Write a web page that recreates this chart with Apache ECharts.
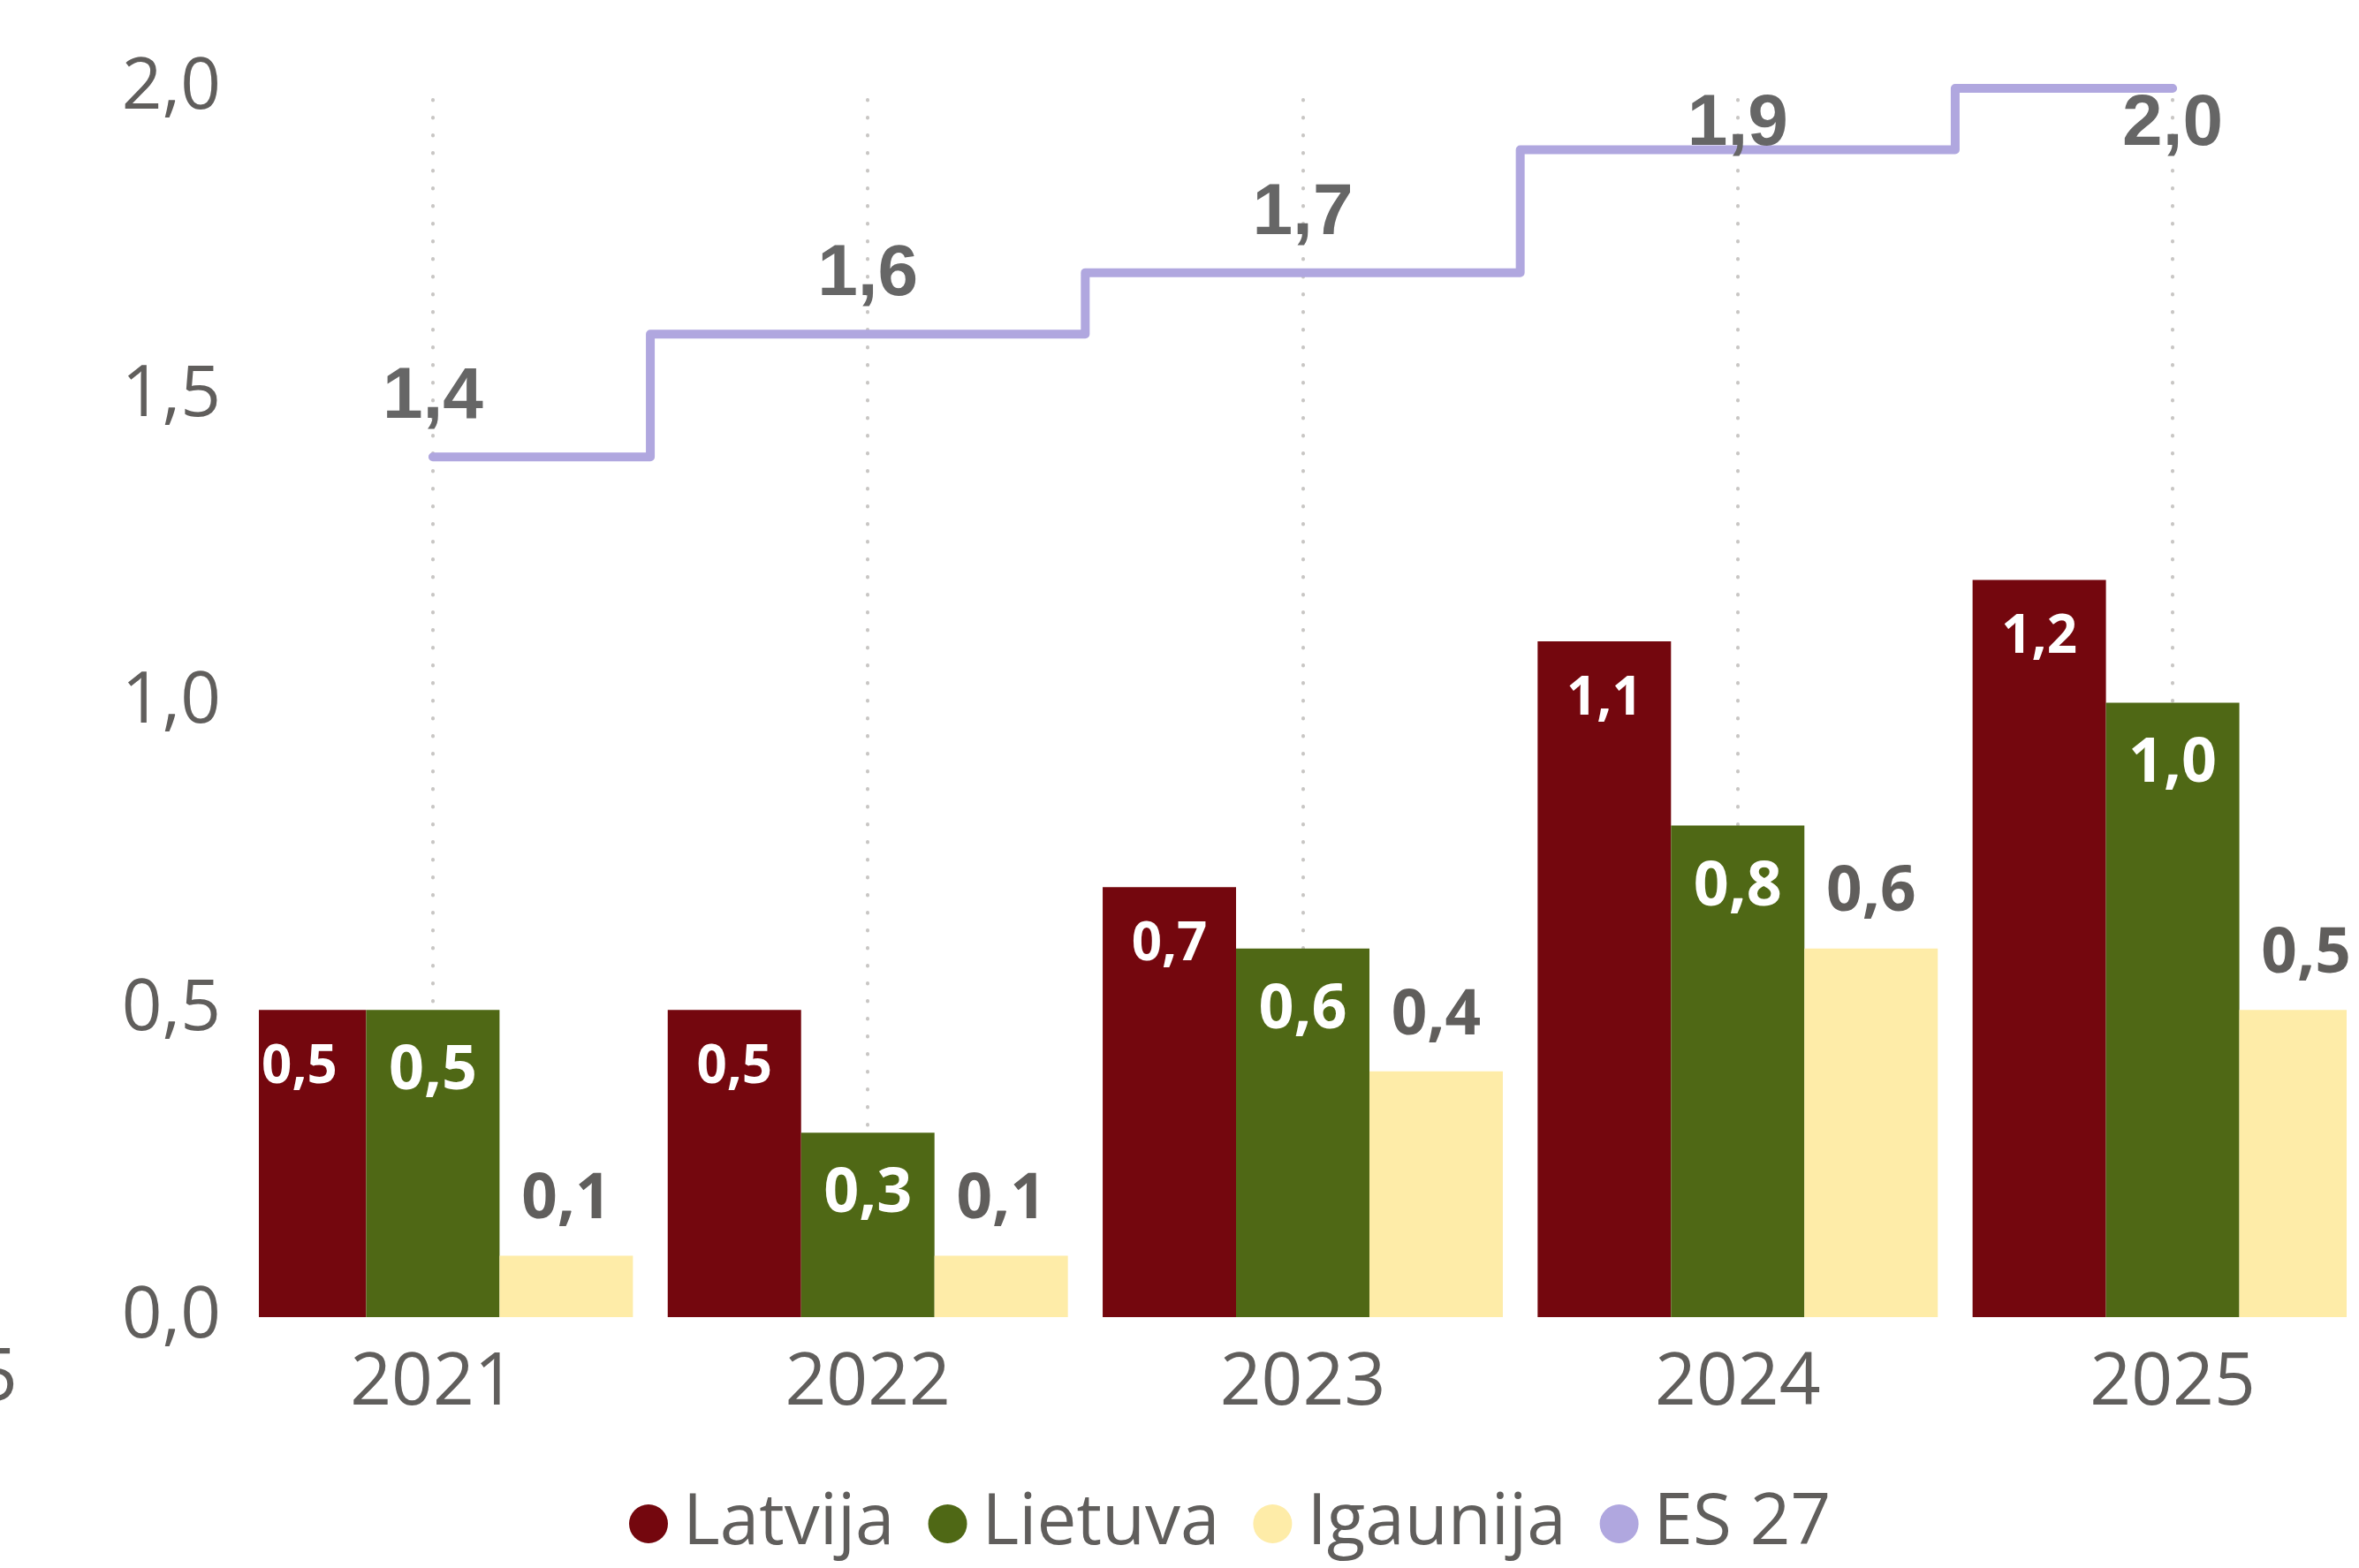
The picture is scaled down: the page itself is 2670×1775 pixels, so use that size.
<!DOCTYPE html>
<html>
<head>
<meta charset="utf-8">
<title>Latvija, Lietuva, Igaunija, ES 27</title>
<script src="https://cdn.jsdelivr.net/npm/echarts@6.0.0/dist/echarts.min.js"></script>
<style>
    html, body {margin: 0; padding: 0; background: #fff;}
    #main {width: 2670px; height: 1775px;}
</style>
</head>
<body>
<div id="main"></div>
<script>
// dati
var years = ['2021', '2022', '2023', '2024', '2025'];
var latvija = [0.5, 0.5, 0.7, 1.1, 1.2];
var lietuva = [0.5, 0.3, 0.6, 0.8, 1.0];
var igaunija = [0.1, 0.1, 0.4, 0.6, 0.5];
var es27 = [1.4, 1.6, 1.7, 1.9, 2.0];

var gray = '#605E5C';
var fmt = function (v) { return v.toFixed(1).replace('.', ','); };

// x ass ir skaitliska (0..4), lai grafiks būtu apgriezts malās kā oriģinālā
function pairs(arr) {
    return arr.map(function (v, i) { return [i, v]; });
}

var esData = pairs(es27);
esData[3] = {value: esData[3], label: {offset: [0, 38]}};
esData[4] = {value: esData[4], label: {offset: [0, 108]}};

// stabiņi: 3 stabiņi katrā gadā, apgriezti pēc zīmēšanas laukuma
function barRenderer(slot, lbl) {
    return function (params, api) {
        var i = api.value(0);
        var v = api.value(1);
        var w = api.size([1, 0])[0] * 0.92 / 3;
        var top = api.coord([i, v]);
        var base = api.coord([i, 0]);
        var x = top[0] + (slot - 1.5) * w;
        var cs = params.coordSys;
        var rect = echarts.graphic.clipRectByRect(
            {x: x, y: top[1], width: w, height: base[1] - top[1]},
            {x: cs.x, y: cs.y, width: cs.width, height: cs.height}
        );
        if (!rect) {
            return;
        }
        return {
            type: 'group',
            children: [
                {type: 'rect', shape: rect, style: {fill: api.visual('color')}},
                {
                    type: 'text',
                    x: x + w / 2,
                    y: lbl.inside ? top[1] + lbl.dist : top[1] - lbl.dist,
                    z2: 10,
                    style: {
                        text: fmt(v),
                        fill: lbl.color,
                        font: 'bold ' + lbl.size + 'px "Open Sans"',
                        align: 'center',
                        verticalAlign: lbl.inside ? 'top' : 'bottom'
                    }
                }
            ]
        };
    };
}

var myChart = echarts.init(document.getElementById('main'));
myChart.setOption({
    backgroundColor: '#fff',
    animation: false,
    grid: {left: 293, right: 14, top: 100, bottom: 284},
    legend: {
        left: 707,
        top: 1680,
        itemWidth: 68,
        itemHeight: 44,
        itemGap: 38,
        icon: 'path://M50,0 A50,50 0 1,1 50,100 A50,50 0 1,1 50,0 Z',
        textStyle: {color: gray, fontFamily: 'Open Sans', fontSize: 80},
        data: ['Latvija', 'Lietuva', 'Igaunija', 'ES 27']
    },
    xAxis: {
        type: 'value',
        min: -0.4,
        max: 4.4,
        axisLine: {show: false},
        axisTick: {show: false, customValues: [0, 1, 2, 3, 4]},
        splitLine: {
            show: true,
            lineStyle: {color: '#C8C6C4', width: 4, type: [0.5, 19.5], dashOffset: 7, cap: 'round'}
        },
        axisLabel: {
            customValues: [0, 1, 2, 3, 4],
            margin: 35,
            color: gray,
            fontFamily: 'Open Sans',
            fontSize: 82,
            formatter: function (v) { return years[Math.round(v)]; }
        }
    },
    yAxis: {
        type: 'value',
        min: 0,
        max: 2,
        interval: 0.5,
        axisLine: {show: false},
        axisTick: {show: false},
        splitLine: {show: false},
        axisLabel: {
            margin: 43,
            padding: [7, 0, 0, 0],
            color: gray,
            fontFamily: 'Open Sans',
            fontSize: 80,
            formatter: function (v) { return fmt(v); }
        }
    },
    graphic: [{
        type: 'text',
        x: 20,
        y: 1562,
        style: {
            text: '5',
            fill: gray,
            font: '82px "Open Sans"',
            align: 'right',
            verticalAlign: 'middle'
        }
    }],
    series: [
        {
            name: 'Latvija',
            type: 'custom',
            itemStyle: {color: '#74070E'},
            encode: {x: 0, y: 1},
            renderItem: barRenderer(0, {inside: true, dist: 36, size: 60, color: '#fff'}),
            data: pairs(latvija)
        },
        {
            name: 'Lietuva',
            type: 'custom',
            itemStyle: {color: '#4F6815'},
            encode: {x: 0, y: 1},
            renderItem: barRenderer(1, {inside: true, dist: 35, size: 70, color: '#fff'}),
            data: pairs(lietuva)
        },
        {
            name: 'Igaunija',
            type: 'custom',
            itemStyle: {color: '#FEECA8'},
            encode: {x: 0, y: 1},
            renderItem: barRenderer(2, {inside: false, dist: 27, size: 71, color: gray}),
            data: pairs(igaunija)
        },
        {
            name: 'ES 27',
            type: 'line',
            step: 'middle',
            symbol: 'circle',
            symbolSize: 1,
            z: 5,
            itemStyle: {color: '#B0A7DF'},
            lineStyle: {color: '#B0A7DF', width: 10, cap: 'round', join: 'round'},
            label: {
                show: true,
                position: 'top',
                distance: 25,
                color: '#666666',
                fontFamily: 'Liberation Sans',
                fontWeight: 'bold',
                fontSize: 82,
                formatter: function (p) { return fmt(p.value[1]); }
            },
            data: esData
        }
    ]
});
</script>
</body>
</html>
